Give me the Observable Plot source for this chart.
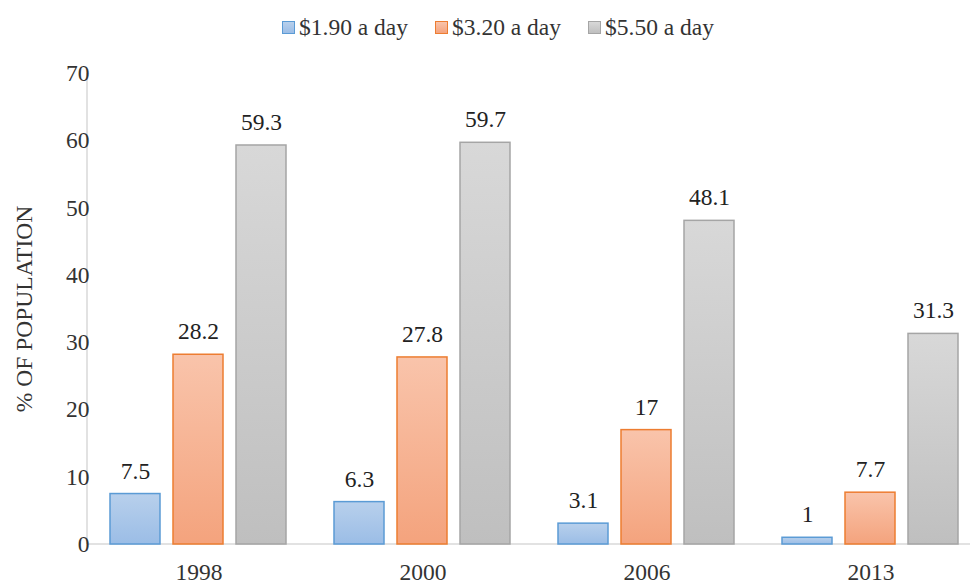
<!DOCTYPE html>
<html>
<head>
<meta charset="utf-8">
<script src="https://cdn.jsdelivr.net/npm/d3@7"></script>
<script src="https://cdn.jsdelivr.net/npm/@observablehq/plot@0.6"></script>
<style>
  html, body { margin: 0; padding: 0; background: #fff; overflow: hidden; }
  #wrap { position: relative; width: 970px; height: 584px; }
  #legend { position: absolute; left: 282px; top: 12px; height: 30px; display: flex; align-items: center;
            font-family: "Liberation Serif", "Times New Roman", Tinos, "DejaVu Serif", serif; font-size: 23.5px; color: #333; }
  .item { display: flex; align-items: center; margin-right: 27px; }
  .sw { width: 11px; height: 11px; border: 1px solid; margin-right: 4px; }
  #chart { position: absolute; left: 0; top: 50px; }
  #chart svg text { font-family: "Liberation Serif", "Times New Roman", Tinos, "DejaVu Serif", serif; }
</style>
</head>
<body>
<div id="wrap">
  <div id="legend"></div>
  <div id="chart"></div>
</div>
<script>
const years = ["1998", "2000", "2006", "2013"];
const series = ["$1.90 a day", "$3.20 a day", "$5.50 a day"];
const v190 = [7.5, 6.3, 3.1, 1];
const v320 = [28.2, 27.8, 17, 7.7];
const v550 = [59.3, 59.7, 48.1, 31.3];
const yTicks = [0, 10, 20, 30, 40, 50, 60, 70];
const strokes = ["#5b9bd5", "#ed7d31", "#a5a5a5"];
const gradTop = ["#b8d0ec", "#f9c4ab", "#d8d8d8"];
const gradBottom = ["#9bbde6", "#f4a37d", "#bfbfbf"];

const values = [v190, v320, v550];
const data = [];
series.forEach((s, i) => years.forEach((y, j) => data.push({year: y, series: s, value: values[i][j]})));

// legend
const legend = document.getElementById("legend");
series.forEach((s, i) => {
  const it = document.createElement("div");
  it.className = "item";
  const sw = document.createElement("div");
  sw.className = "sw";
  sw.style.borderColor = strokes[i];
  sw.style.background = `linear-gradient(${gradTop[i]}, ${gradBottom[i]})`;
  const tx = document.createElement("span");
  tx.textContent = s;
  it.appendChild(sw); it.appendChild(tx);
  legend.appendChild(it);
});

const font = '"Liberation Serif", "Times New Roman", Tinos, "DejaVu Serif", serif';
const W = 970, ML = 87, MR = -13;
const chart = Plot.plot({
  width: W,
  height: 534,
  marginLeft: ML,
  marginRight: MR,
  marginTop: 23,
  marginBottom: 40,
  style: {fontFamily: font, fontSize: "23.5px", color: "#333", background: "transparent"},
  fx: {domain: years, paddingInner: 0.2, paddingOuter: 0.1, label: null, tickSize: 0, tickPadding: 19, axis: "bottom"},
  x: {domain: series, paddingInner: 0.2, paddingOuter: 0, axis: null},
  y: {domain: [0, 70], ticks: yTicks, tickSize: 0, tickPadding: 20,
      label: "% OF POPULATION", labelAnchor: "center", labelArrow: "none", labelOffset: 94},
  marks: [
    ...series.map((s, i) => Plot.barY(data.filter(d => d.series === s), {
      fx: "year", x: "series", y: "value",
      fill: `url(#grad${i})`, stroke: strokes[i], strokeWidth: 1.5
    })),
    Plot.text(data, {fx: "year", x: "series", y: "value", text: d => String(d.value),
      lineAnchor: "middle", dy: -23, fill: "#222", fontSize: 23.5})
  ]
});

const svg = d3.select(chart);
const defs = svg.insert("defs", ":first-child");
gradTop.forEach((c, i) => {
  const g = defs.append("linearGradient").attr("id", `grad${i}`).attr("x1", 0).attr("y1", 0).attr("x2", 0).attr("y2", 1);
  g.append("stop").attr("offset", "0%").attr("stop-color", c);
  g.append("stop").attr("offset", "100%").attr("stop-color", gradBottom[i]);
});

// axis lines from the y scale
const ys = chart.scale("y");
const y0 = ys.apply(0), yTop = ys.apply(70);
const axes = svg.insert("g", "defs + *").attr("stroke", "#d9d9d9").attr("stroke-width", 1.5);
axes.append("line").attr("x1", ML).attr("x2", ML).attr("y1", yTop).attr("y2", y0);
axes.append("line").attr("x1", ML).attr("x2", W - MR).attr("y1", y0).attr("y2", y0);

document.getElementById("chart").appendChild(chart);
</script>
</body>
</html>
